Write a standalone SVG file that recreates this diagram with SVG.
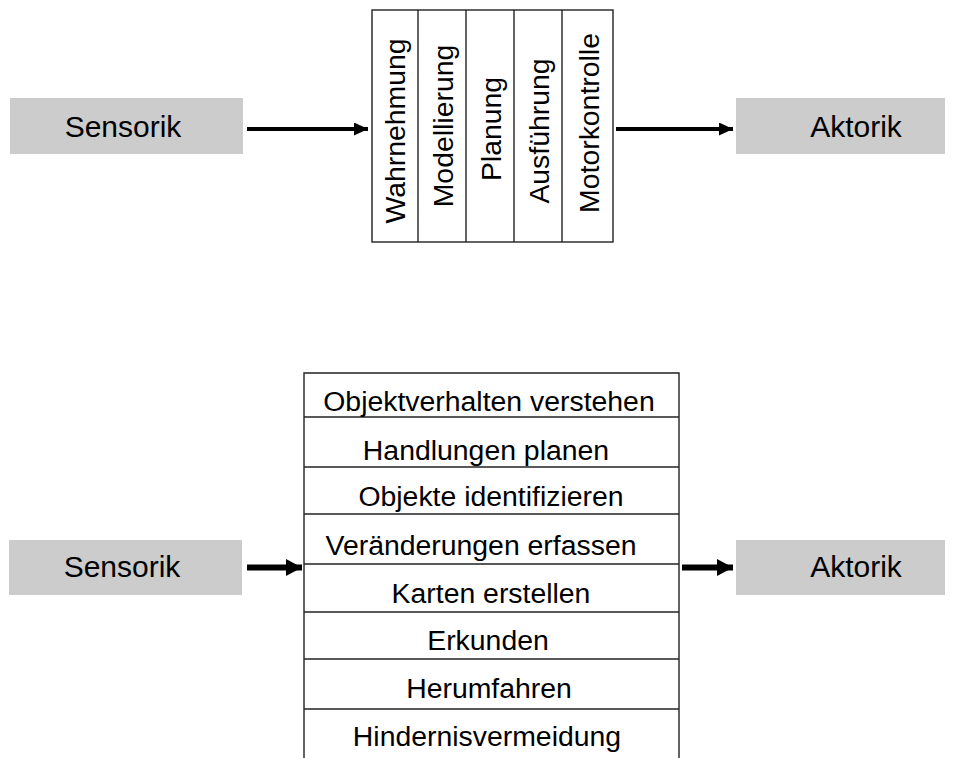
<svg xmlns="http://www.w3.org/2000/svg" width="955" height="758" viewBox="0 0 955 758">
  <defs>
    <marker id="head" viewBox="0 0 14 13" refX="14" refY="6.5" markerWidth="14" markerHeight="13" markerUnits="userSpaceOnUse" orient="auto">
      <path d="M0,0 L14,6.5 L0,13 Z" fill="#000"/>
    </marker>
    <marker id="head-wide" viewBox="0 0 16 17" refX="16" refY="8.5" markerWidth="16" markerHeight="17" markerUnits="userSpaceOnUse" orient="auto">
      <path d="M0,0 L16,8.5 L0,17 Z" fill="#000"/>
    </marker>
  </defs>
  <style>
    .io { fill: #cccccc; }
    .io-label { font-family: "Liberation Sans", Arial, sans-serif; font-size: 30px; fill: #000; text-anchor: middle; }
    .frame { fill: #fff; stroke: #222; stroke-width: 1.4; }
    .sep { stroke: #222; stroke-width: 1.4; fill: none; }
    .layer { font-family: "Liberation Sans", Arial, sans-serif; font-size: 28.4px; fill: #000; text-anchor: middle; }
    .flow { stroke: #000; stroke-width: 4.2; fill: none; marker-end: url(#head); }
    .flow-wide { stroke: #000; stroke-width: 6.2; fill: none; marker-end: url(#head-wide); }
  </style>

  <!-- Upper diagram: functional (horizontal) decomposition -->
  <g id="sensorik-top">
    <rect class="io" x="10" y="98" width="233" height="56"/>
    <text class="io-label" x="123" y="137">Sensorik</text>
  </g>
  <g id="aktorik-top">
    <rect class="io" x="736" y="98" width="209" height="56"/>
    <text class="io-label" x="856" y="137">Aktorik</text>
  </g>
  <g id="functional-stack">
    <rect class="frame" x="372" y="10" width="241" height="232"/>
    <line class="sep" x1="418" y1="10" x2="418" y2="242"/>
    <line class="sep" x1="466" y1="10" x2="466" y2="242"/>
    <line class="sep" x1="514" y1="10" x2="514" y2="242"/>
    <line class="sep" x1="562" y1="10" x2="562" y2="242"/>
    <text class="layer" transform="translate(405,131) rotate(-90)">Wahrnehmung</text>
    <text class="layer" transform="translate(453,126) rotate(-90)">Modellierung</text>
    <text class="layer" transform="translate(501,129) rotate(-90)">Planung</text>
    <text class="layer" transform="translate(549,131) rotate(-90)">Ausführung</text>
    <text class="layer" transform="translate(599,123) rotate(-90)">Motorkontrolle</text>
  </g>

  <!-- Lower diagram: behaviour-based (vertical) decomposition -->
  <g id="sensorik-bottom">
    <rect class="io" x="9" y="540" width="233" height="55"/>
    <text class="io-label" x="122" y="577">Sensorik</text>
  </g>
  <g id="aktorik-bottom">
    <rect class="io" x="736" y="540" width="209" height="55"/>
    <text class="io-label" x="856" y="577">Aktorik</text>
  </g>
  <g id="behaviour-stack">
    <path class="sep" d="M304,758 V373 H679 V758"/>
    <line class="sep" x1="304" y1="417" x2="679" y2="417"/>
    <line class="sep" x1="304" y1="467" x2="679" y2="467"/>
    <line class="sep" x1="304" y1="514" x2="679" y2="514"/>
    <line class="sep" x1="304" y1="564" x2="679" y2="564"/>
    <line class="sep" x1="304" y1="612" x2="679" y2="612"/>
    <line class="sep" x1="304" y1="659" x2="679" y2="659"/>
    <line class="sep" x1="304" y1="709" x2="679" y2="709"/>
    <text class="layer" x="489" y="411">Objektverhalten verstehen</text>
    <text class="layer" x="486" y="460">Handlungen planen</text>
    <text class="layer" x="491" y="506">Objekte identifizieren</text>
    <text class="layer" x="481" y="555">Veränderungen erfassen</text>
    <text class="layer" x="491" y="603">Karten erstellen</text>
    <text class="layer" x="488" y="650">Erkunden</text>
    <text class="layer" x="489" y="698">Herumfahren</text>
    <text class="layer" x="487" y="746">Hindernisvermeidung</text>
  </g>

  <g id="connectors">
    <line class="flow" x1="247" y1="129" x2="368" y2="129"/>
    <line class="flow" x1="616" y1="129" x2="733" y2="129"/>
    <line class="flow-wide" x1="247" y1="567.5" x2="302" y2="567.5"/>
    <line class="flow-wide" x1="682" y1="567.5" x2="733" y2="567.5"/>
  </g>
</svg>
